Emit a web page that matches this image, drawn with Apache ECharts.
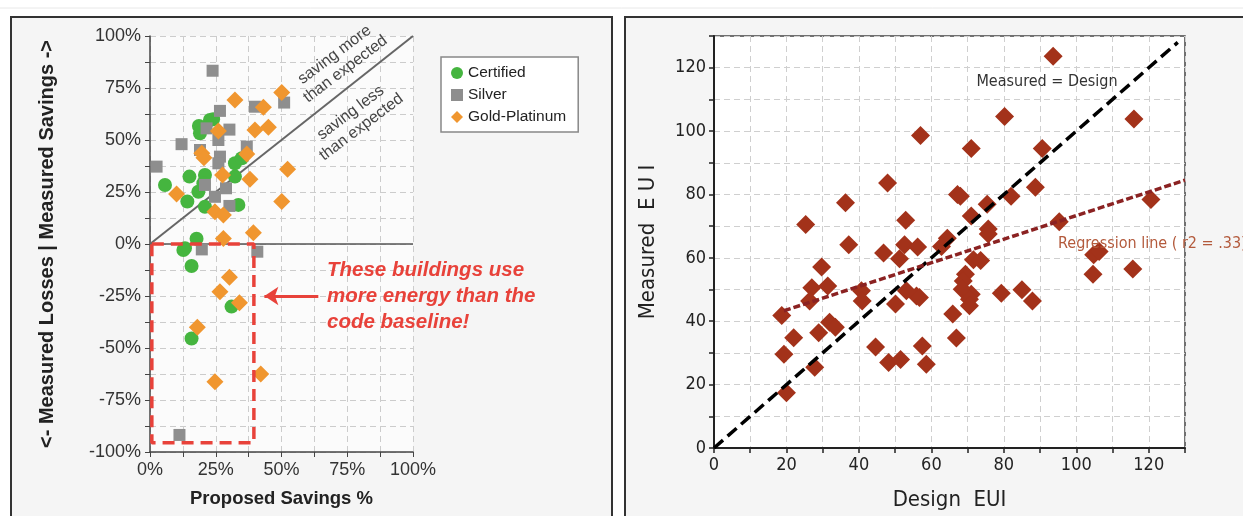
<!DOCTYPE html>
<html>
<head>
<meta charset="utf-8">
<script src="https://cdn.jsdelivr.net/npm/echarts@6/dist/echarts.min.js"></script>
<style>
  html, body { margin: 0; padding: 0; background: #fff; }
  #chart { width: 1243px; height: 516px; }
</style>
</head>
<body>
<div id="chart"></div>
<script>
// left panel: proposed vs measured savings (%), by certification level
var certified = [[5.7,28.4],[15,32.4],[14.2,20.4],[18.6,56.7],[19,53.2],[22.8,59.6],[24,60],[20.9,33.2],[20.3,29.2],[18.4,25.1],[20.9,17.9],[32.3,38.8],[34.9,41.2],[32.3,32.4],[33.6,18.8],[17.7,2.5],[13.3,-2],[12.7,-2.9],[15.8,-10.6],[31,-30.1],[15.8,-45.4]];
var silver = [[2.5,37.2],[12,48],[23.8,83.3],[26.6,64],[30.2,55],[26,50],[21.5,55.6],[19,45.2],[26.6,42],[26,38.8],[36.8,46.8],[39.9,66],[51,68],[20.9,28.4],[24.7,22.7],[28.9,26.8],[30.2,18.3],[19.7,-2.6],[40.8,-3.7],[11.2,-91.8]];
var goldPlatinum = [[10.1,24],[19.7,43.6],[20.5,41.5],[26,54.3],[32.3,69.2],[43.1,65.7],[39.9,54.8],[45,56.1],[50.1,72.8],[36.8,43.3],[27.6,33.2],[38,31.1],[52.3,35.9],[50.1,20.4],[24.7,15.5],[27.9,13.9],[27.9,2.7],[39.3,5.4],[30.2,-16],[26.6,-23],[34,-28.2],[18,-40],[24.7,-66.2],[42.1,-62.5]];
var parityLeft = [[0,0],[100,100]];
var zeroLine = [[0,0],[100,0]];
var lossBox = [[0.7,0],[39.5,0],[39.5,-95.5],[0.7,-95.5],[0.7,0]];
var arrowFromTo = [[64,-25],[43.5,-25]];

// right panel: design vs measured EUI
var euiPoints = [[93.6,123.6],[80.2,104.6],[115.9,103.8],[57,98.6],[71,94.5],[90.6,94.5],[47.9,83.6],[88.7,82.3],[67.2,80],[68,79.4],[82,79.4],[120.6,78.4],[36.3,77.4],[75.4,76.9],[71,73.2],[52.9,71.9],[95.3,71.4],[25.3,70.5],[75.7,69.1],[75.7,67.5],[64.4,66.2],[37.2,64.1],[52.6,64.1],[56.2,63.4],[62.8,63.6],[46.8,61.5],[51.2,59.7],[104.8,61],[106.3,62],[71.6,59.4],[73.6,59.2],[115.6,56.5],[29.7,57.1],[104.6,54.8],[69.4,54.8],[68.8,52.7],[27,50.6],[31.4,51.1],[40.7,49.6],[53.1,49.6],[55.9,48],[56.7,47.5],[68.5,50.1],[71,48.5],[70.5,46.9],[79.3,48.8],[85,49.9],[87.9,46.4],[26.4,46.4],[40.9,46.4],[50.1,45.4],[70.5,44.9],[18.7,41.8],[65.9,42.3],[31.9,39.7],[33.5,38.1],[22,34.8],[28.9,36.4],[66.9,34.7],[44.6,31.9],[57.5,32.2],[19.3,29.6],[48.2,27],[51.5,27.9],[58.6,26.4],[27.8,25.5],[20,17.4]];
var parityRight = [[0,0],[128,128]];
var regressionLine = [[19.3,43.3],[130,84.5]];

var chart = echarts.init(document.getElementById('chart'));

var leftFont = 'Liberation Sans, Arial, sans-serif';
var rightFont = 'DejaVu Sans Condensed, DejaVu Sans, sans-serif';

var option = {
    animation: false,
    textStyle: { fontFamily: leftFont },
    graphic: [
        { type: 'line', z: -20, shape: { x1: 0, y1: 8, x2: 1243, y2: 8 }, style: { stroke: '#e8e8e8', lineWidth: 1 } },
        { type: 'rect', z: -10, shape: { x: 11, y: 17, width: 601, height: 520 }, style: { fill: '#f5f5f5', stroke: '#333', lineWidth: 2 } },
        { type: 'rect', z: -10, shape: { x: 625, y: 17, width: 640, height: 520 }, style: { fill: '#f5f5f5', stroke: '#333', lineWidth: 2 } },
        { type: 'text', z: 100, x: 340, y: 62, rotation: 37 * Math.PI / 180,
          style: { text: 'saving more\nthan expected', font: '16px ' + leftFont, fill: '#444', align: 'center', verticalAlign: 'middle', lineHeight: 18 } },
        { type: 'text', z: 100, x: 356, y: 120, rotation: 37 * Math.PI / 180,
          style: { text: 'saving less\nthan expected', font: '16px ' + leftFont, fill: '#444', align: 'center', verticalAlign: 'middle', lineHeight: 18 } },
        { type: 'text', z: 100, x: 327, y: 296,
          style: { text: 'These buildings use\nmore energy than the\ncode baseline!', font: 'italic bold 20.5px ' + leftFont, fill: '#e8423a', align: 'left', verticalAlign: 'middle', lineHeight: 26 } },
        { type: 'text', z: 100, x: 1047, y: 82,
          style: { text: 'Measured = Design', font: '16px ' + rightFont, fill: '#333', align: 'center', verticalAlign: 'middle' } },
        { type: 'text', z: 100, x: 1058, y: 244,
          style: { text: 'Regression line ( r2 = .33)', font: '16px ' + rightFont, fill: '#b35a3c', align: 'left', verticalAlign: 'middle' } }
    ],
    legend: {
        orient: 'vertical',
        left: 441,
        top: 57,
        width: 141,
        padding: [8, 12, 7, 10],
        itemGap: 6,
        itemWidth: 12,
        itemHeight: 12,
        backgroundColor: '#fff',
        borderColor: '#888',
        borderWidth: 1.5,
        textStyle: { fontSize: 15.5, color: '#222', fontFamily: leftFont },
        data: ['Certified', 'Silver', 'Gold-Platinum']
    },
    grid: [
        { left: 150, top: 36, width: 263, height: 416, show: true, backgroundColor: '#fbfbfb', borderWidth: 0 },
        { left: 714, top: 36, width: 471, height: 415, show: true, backgroundColor: '#fff', borderColor: '#444', borderWidth: 1.5 }
    ],
    xAxis: [
        {
            gridIndex: 0, type: 'value', min: 0, max: 100, interval: 12.5,
            name: 'Proposed Savings %', nameLocation: 'middle', nameGap: 37,
            nameTextStyle: { fontSize: 18.5, fontWeight: 'bold', color: '#222' },
            axisLine: { onZero: false, lineStyle: { color: '#444', width: 1.5 } },
            axisTick: { length: 5, lineStyle: { color: '#444' } },
            axisLabel: { fontSize: 18, color: '#333', margin: 9, formatter: function (v) { return v % 25 === 0 ? v + '%' : ''; } },
            splitLine: { lineStyle: { color: '#ccc', type: [6, 4] } }
        },
        {
            gridIndex: 1, type: 'value', min: 0, max: 130, interval: 10,
            name: 'Design  EUI', nameLocation: 'middle', nameGap: 41,
            nameTextStyle: { fontSize: 22, color: '#222', fontFamily: rightFont },
            axisLine: { onZero: false, lineStyle: { color: '#222', width: 2 } },
            axisTick: { length: 5, lineStyle: { color: '#222', width: 1.5 } },
            axisLabel: { fontSize: 18, color: '#222', margin: 8, fontFamily: rightFont, formatter: function (v) { return v % 20 === 0 ? v : ''; } },
            splitLine: { lineStyle: { color: '#cfcfcf', type: [6, 4] } }
        }
    ],
    yAxis: [
        {
            gridIndex: 0, type: 'value', min: -100, max: 100, interval: 12.5,
            name: '<- Measured Losses | Measured Savings ->', nameLocation: 'middle', nameGap: 93,
            nameTextStyle: { fontSize: 20, fontWeight: 'bold', color: '#222' },
            axisLine: { onZero: false, lineStyle: { color: '#444', width: 1.5 } },
            axisTick: { length: 5, lineStyle: { color: '#444' } },
            axisLabel: { fontSize: 18, color: '#333', margin: 9, formatter: function (v) { return v % 25 === 0 ? v + '%' : ''; } },
            splitLine: { lineStyle: { color: '#ccc', type: [6, 4] } }
        },
        {
            gridIndex: 1, type: 'value', min: 0, max: 130, interval: 10,
            name: 'Measured  E U I', nameLocation: 'middle', nameGap: 55,
            nameTextStyle: { fontSize: 22, color: '#222', fontFamily: rightFont },
            axisLine: { onZero: false, lineStyle: { color: '#222', width: 2 } },
            axisTick: { length: 5, lineStyle: { color: '#222', width: 1.5 } },
            axisLabel: { fontSize: 18, color: '#222', margin: 8, fontFamily: rightFont, formatter: function (v) { return v % 20 === 0 ? v : ''; } },
            splitLine: { lineStyle: { color: '#cfcfcf', type: [6, 4] } }
        }
    ],
    series: [
        {
            type: 'line', xAxisIndex: 0, yAxisIndex: 0, data: zeroLine, symbol: 'none', silent: true,
            lineStyle: { color: '#555', width: 1.5 }, z: 1
        },
        {
            type: 'line', xAxisIndex: 0, yAxisIndex: 0, data: parityLeft, symbol: 'none', silent: true,
            lineStyle: { color: '#666', width: 2 }, z: 1
        },
        {
            name: 'Certified', type: 'scatter', xAxisIndex: 0, yAxisIndex: 0, data: certified,
            symbol: 'circle', symbolSize: 14, itemStyle: { color: '#45b53f', opacity: 1 }
        },
        {
            name: 'Silver', type: 'scatter', xAxisIndex: 0, yAxisIndex: 0, data: silver,
            symbol: 'rect', symbolSize: 12, itemStyle: { color: '#8e8e8e', opacity: 1 }
        },
        {
            name: 'Gold-Platinum', type: 'scatter', xAxisIndex: 0, yAxisIndex: 0, data: goldPlatinum,
            symbol: 'diamond', symbolSize: 17, itemStyle: { color: '#f0962f', opacity: 1 }
        },
        {
            type: 'line', xAxisIndex: 0, yAxisIndex: 0, data: lossBox, symbol: 'none', silent: true, z: 5,
            lineStyle: { color: '#e8423a', width: 3.5, type: [12, 7] },
            markLine: {
                silent: true, symbol: ['none', 'arrow'], symbolSize: [14, 14],
                label: { show: false },
                lineStyle: { color: '#e8423a', width: 3, type: 'solid' },
                data: [[{ coord: arrowFromTo[0] }, { coord: arrowFromTo[1] }]]
            }
        },
        {
            type: 'line', xAxisIndex: 1, yAxisIndex: 1, data: parityRight, symbol: 'none', silent: true, z: 4,
            lineStyle: { color: '#000', width: 3.5, type: [12, 6] }
        },
        {
            type: 'line', xAxisIndex: 1, yAxisIndex: 1, data: regressionLine, symbol: 'none', silent: true, z: 4,
            lineStyle: { color: '#8b2222', width: 3.5, type: [7, 3] }
        },
        {
            type: 'scatter', xAxisIndex: 1, yAxisIndex: 1, data: euiPoints, z: 3,
            symbol: 'diamond', symbolSize: 19, itemStyle: { color: '#a3321a', opacity: 1 }
        }
    ]
};

chart.setOption(option);
</script>
</body>
</html>
